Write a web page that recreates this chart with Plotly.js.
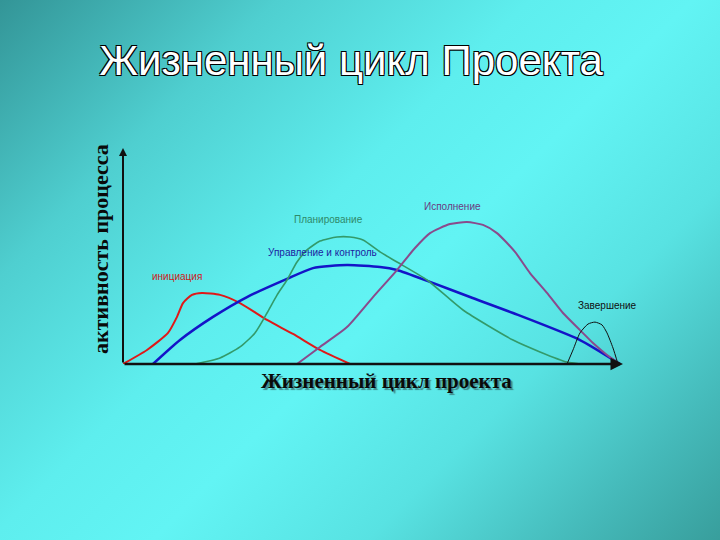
<!DOCTYPE html>
<html>
<head>
<meta charset="utf-8">
<script src="https://cdn.plot.ly/plotly-3.0.1.min.js"></script>
<style>
html,body{margin:0;padding:0;}
body{width:720px;height:540px;overflow:hidden;
background:linear-gradient(135deg,#339597 0%,#4fcfd0 22%,#5eeeee 42%,#62f4f4 55%,#58e2e2 72%,#45baba 88%,#389e9c 100%);}
#chart{width:720px;height:540px;}
</style>
</head>
<body>
<div id="chart"></div>
<script>
// Series names (phases of the project life cycle)
var phaseNames = ["инициация", "Управление и контроль", "Планирование", "Исполнение", "Завершение"];

// Initiation (red)
var initX = [0, 4.8, 9, 10.8, 12, 13.8, 15.8, 19.4, 23.4, 28.8, 34, 39.4, 45.4];
var initY = [0, 6.5, 14.4, 21.8, 28.2, 32, 32.9, 32, 28.2, 20.4, 13.9, 6.5, 0];

// Management & control (blue)
var ctrlX = [6, 11.4, 18, 24.8, 32.8, 38, 44.8, 51.4, 54.8, 61.4, 69.4, 78, 91.4, 99.4];
var ctrlY = [0, 11.1, 21.8, 31.0, 39.4, 44.4, 45.8, 44.9, 43.5, 38, 31, 23.6, 11.1, 0];

// Planning (green)
var planX = [14.4, 19.4, 23.4, 26.4, 28.8, 30.8, 32.8, 34.8, 36.8, 39.4, 42.8, 45.4, 48, 51.4, 54.8, 60.8, 68, 78, 83.4, 88.8, 91.4];
var planY = [0, 2.8, 7.9, 14.4, 23.6, 31.9, 38.9, 47.2, 52.8, 56.9, 58.8, 58.8, 57.4, 51.9, 47.2, 38.9, 25, 11.1, 5.6, 0.9, 0];

// Execution (purple)
var execX = [34.8, 39.4, 44.8, 50, 54.8, 58.4, 61.4, 65.4, 68.8, 72, 74.8, 78.4, 81.4, 84.8, 88, 91.4, 94, 96.8, 99.4];
var execY = [0, 7.9, 17.1, 31, 43.5, 53.7, 60.6, 64.8, 65.7, 64.4, 60.6, 51.9, 42.1, 32.9, 23.6, 15.7, 9.7, 4.2, 0];

// Closing (black)
var closeX = [88.8, 90, 91.4, 93, 94.4, 95.8, 96.8, 98, 99];
var closeY = [0, 6.5, 14.4, 18.5, 19.4, 18.1, 14.4, 7.4, 0];

// Label anchor points for each phase
var labelX = [10.8, 39.8, 41, 65.8, 96.8];
var labelY = [40.3, 51.4, 66.7, 73.1, 26.9];

var chartTitle = "Жизненный цикл Проекта";
var xTitle = "Жизненный цикл проекта";
var yTitle = "активность процесса";

var lineColors = ["#e01818", "#1414c8", "#339a6a", "#8a4a8c", "#101010"];
var labelColors = ["#d01818", "#1c1ca0", "#2f8a6a", "#6a3a80", "#101010"];
var widths = [2, 2.5, 1.6, 2, 1];

var xs = [initX, ctrlX, planX, execX, closeX];
var ys = [initY, ctrlY, planY, execY, closeY];

var traces = xs.map(function(x, i){
  return {
    x: x, y: ys[i], type: "scatter", mode: "lines", name: phaseNames[i],
    line: {color: lineColors[i], width: widths[i], shape: "spline", smoothing: 0.6},
    hoverinfo: "skip", cliponaxis: false
  };
});

var annotations = phaseNames.map(function(n, i){
  return {
    x: labelX[i], y: labelY[i], xref: "x", yref: "y", text: n, showarrow: false,
    xanchor: "center", yanchor: "middle",
    font: {family: "Liberation Sans, Arial, sans-serif", size: 10, color: labelColors[i]}
  };
});

// Axis arrows
annotations.push({x: 100, y: 0, ax: 0, ay: 0, xref: "x", yref: "y", axref: "x", ayref: "y",
  showarrow: true, arrowhead: 2, arrowsize: 1, arrowwidth: 2.5, arrowcolor: "#111", text: ""});
annotations.push({x: 0, y: 100, ax: 0, ay: 0, xref: "x", yref: "y", axref: "x", ayref: "y",
  showarrow: true, arrowhead: 2, arrowsize: 0.8, arrowwidth: 2, arrowcolor: "#111", text: ""});

// Axis titles (positions given in pixels, converted below)
annotations.push({x: 386, y: 381, xref: "paper", yref: "paper", text: xTitle, showarrow: false,
  xanchor: "center", yanchor: "middle",
  font: {family: "Liberation Serif, Times New Roman, serif", size: 21, color: "#0a0a0a", weight: "bold",
         shadow: "2px 2px 1px rgba(40,60,60,0.55)"}});
annotations.push({x: 100, y: 249, xref: "paper", yref: "paper", text: yTitle, showarrow: false, textangle: -90,
  xanchor: "center", yanchor: "middle",
  font: {family: "Liberation Serif, Times New Roman, serif", size: 22, color: "#0a0a0a", weight: "bold"}});

var L = 123, R = 97, T = 148, B = 176, W = 720, H = 540;
var pw = W - L - R, ph = H - T - B;
annotations.forEach(function(a){
  if (a.xref === "paper") {
    a.x = (a.x - L) / pw;
    a.y = (H - B - a.y) / ph;
  }
});

var layout = {
  width: W, height: H,
  margin: {l: L, r: R, t: T, b: B, pad: 0},
  paper_bgcolor: "rgba(0,0,0,0)",
  plot_bgcolor: "rgba(0,0,0,0)",
  showlegend: false,
  title: {
    text: chartTitle, x: 351 / W, xanchor: "center", y: 1 - 60 / H, yanchor: "middle",
    font: {family: "Liberation Sans, Arial, sans-serif", size: 42, color: "#ffffff",
           shadow: "1px 1px 0 #000, -1px -1px 0 #000, 1px -1px 0 #000, -1px 1px 0 #000"}
  },
  xaxis: {range: [0, 100], visible: false, fixedrange: true},
  yaxis: {range: [0, 100], visible: false, fixedrange: true},
  annotations: annotations
};

Plotly.newPlot("chart", traces, layout, {staticPlot: true, displayModeBar: false});
</script>
</body>
</html>
